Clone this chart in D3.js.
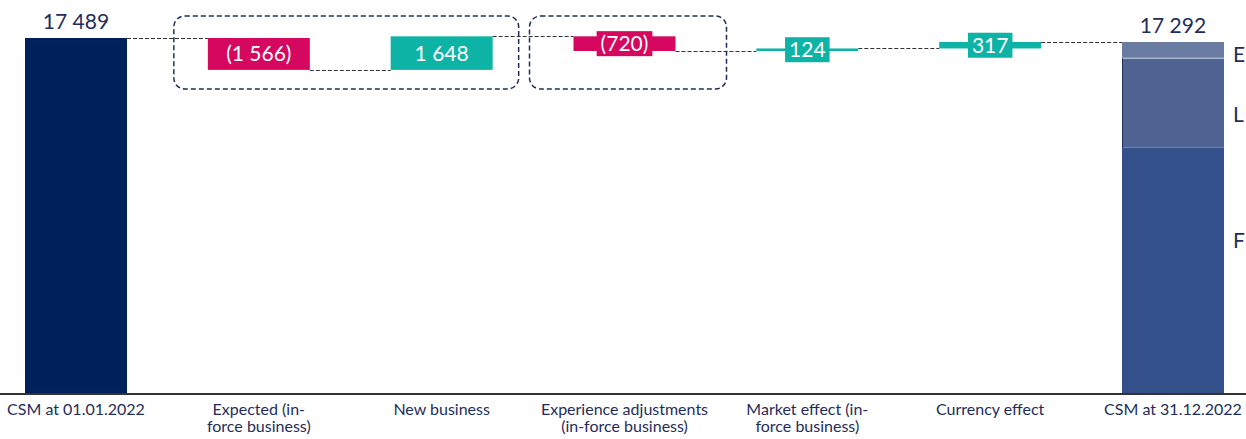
<!DOCTYPE html>
<html><head><meta charset="utf-8">
<script src="https://cdn.jsdelivr.net/npm/d3@7"></script>
<style>
html,body{margin:0;padding:0;background:#fff;overflow:hidden}
text{font-family:Lato,"Open Sans",sans-serif}
</style></head><body>
<svg id="c" width="1246" height="439"></svg>
<script>
const categories = ["CSM at 01.01.2022","Expected (in-\nforce business)","New business","Experience adjustments\n(in-force business)","Market effect (in-\nforce business)","Currency effect","CSM at 31.12.2022"];
const startValue = 17489;
const changes = [-1566, 1648, -720, 124, 317];
const changeLabels = ["(1 566)","1 648","(720)","124","317"];
const endValue = 17292;
const endLabel = "17 292";
const startLabel = "17 489";
const segNames = ["F","L","E"];
const segValues = [12100, 4392, 800];
const groups = [[1,2],[3,3]];

const W=1246,H=439;
const svg=d3.select("#c");
const x=d3.scalePoint().domain(categories).range([76,1173]);
const bw=102;
const y=d3.scaleLinear().domain([0,17489]).range([394,38]);
const navy="#1f2d5a", red="#d5075e", teal="#0db3a5";

let cum=startValue;
const steps=changes.map((v,i)=>{const s={cat:categories[i+1],from:cum,to:cum+v,v,label:changeLabels[i]};cum+=v;return s;});

// dashed group boxes (layout paddings per group)
const boxPad=[[34,26],[44,51]];
groups.forEach((g,gi)=>{
  const x0=x(categories[g[0]])-bw/2-boxPad[gi][0], x1=x(categories[g[1]])+bw/2+boxPad[gi][1];
  svg.append("rect").attr("x",x0).attr("y",16).attr("width",x1-x0).attr("height",73)
    .attr("rx",11).attr("fill","none").attr("stroke",navy).attr("stroke-width",1.5).attr("stroke-dasharray","5,3");
});

// connector lines
const levels=[startValue,...steps.map(s=>s.to)];
const cats=categories;
for(let i=0;i<levels.length;i++){
  const yy=Math.round(y(levels[i]))+0.5;
  svg.append("line").attr("x1",x(cats[i])+bw/2).attr("x2",x(cats[i+1])-bw/2)
    .attr("y1",yy).attr("y2",yy).attr("stroke","#333").attr("stroke-width",1).attr("stroke-dasharray","4,2");
}

// start bar
svg.append("rect").attr("x",x(cats[0])-bw/2).attr("y",y(startValue)).attr("width",bw).attr("height",y(0)-y(startValue)).attr("fill","#00205b");
svg.append("text").attr("x",x(cats[0])).attr("y",y(startValue)-9).attr("text-anchor","middle").attr("font-size",21).attr("fill",navy).text(startLabel);

// step bars
steps.forEach(s=>{
  const col=s.v<0?red:teal;
  const top=y(Math.max(s.from,s.to)), bot=y(Math.min(s.from,s.to));
  svg.append("rect").attr("x",x(s.cat)-bw/2).attr("y",top).attr("width",bw).attr("height",Math.max(bot-top,2.5)).attr("fill",col);
  const cy=(top+bot)/2;
  const t=svg.append("text").attr("x",x(s.cat)).attr("y",cy+7.5).attr("text-anchor","middle").attr("font-size",21).attr("fill","#fff").text(s.label);
  const tw=t.node().getComputedTextLength();
  if(bot-top<25){
    svg.append("rect").attr("x",x(s.cat)-tw/2-4).attr("y",cy-12.5).attr("width",tw+8).attr("height",25).attr("fill",col);
    t.raise();
  }
});

// end stacked bar
const segCols=["#34508a","#4e6391","#6a7ba1"];
const segLabelY=[248,122,62];
let base=0;
segValues.forEach((v,i)=>{
  svg.append("rect").attr("x",x(cats[6])-bw/2).attr("y",y(base+v)).attr("width",bw).attr("height",y(base)-y(base+v)).attr("fill",segCols[i]);
  svg.append("text").attr("x",1233).attr("y",segLabelY[i]).attr("font-size",21).attr("fill",navy).text(segNames[i]);
  base+=v;
});
svg.append("line").attr("x1",x(cats[6])-bw/2).attr("x2",x(cats[6])+bw/2).attr("y1",y(segValues[0]+segValues[1])).attr("y2",y(segValues[0]+segValues[1])).attr("stroke","#aab6cf").attr("stroke-width",1.5);
svg.append("line").attr("x1",x(cats[6])-bw/2+0.5).attr("x2",x(cats[6])-bw/2+0.5).attr("y1",y(segValues[0]+segValues[1])).attr("y2",y(segValues[0])).attr("stroke","#1f2d5a").attr("stroke-width",1);
svg.append("text").attr("x",x(cats[6])).attr("y",y(endValue)-9).attr("text-anchor","middle").attr("font-size",21).attr("fill",navy).text(endLabel);

// axis
const ax=svg.append("g").attr("transform","translate(0,394)").call(d3.axisBottom(x).tickSize(0).tickFormat(""));
ax.select(".domain").attr("d","M0,0H1246").attr("stroke","#333").attr("stroke-width",2);
categories.forEach(c=>{
  const lines=c.split("\n");
  const t=svg.append("text").attr("x",x(c)).attr("y",415).attr("text-anchor","middle").attr("font-size",16).attr("fill",navy);
  lines.forEach((l,i)=>t.append("tspan").attr("x",x(c)).attr("dy",i?17:0).text(l));
});
</script></body></html>
